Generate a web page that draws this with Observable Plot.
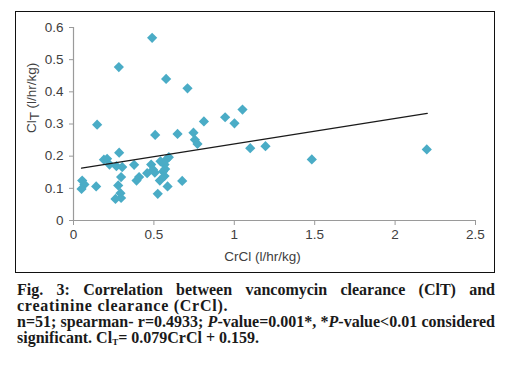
<!DOCTYPE html>
<html>
<head>
<meta charset="utf-8">
<script src="https://cdn.jsdelivr.net/npm/d3@7"></script>
<script src="https://cdn.jsdelivr.net/npm/@observablehq/plot@0.6"></script>
<style>
  html, body { margin: 0; padding: 0; background: #fff; }
  #wrap { position: relative; width: 506px; height: 368px; overflow: hidden; }
  #chart { position: absolute; left: 0; top: 0; }
  #frame { position: absolute; left: 15px; top: 11px; width: 478px; height: 260px; border: 1.6px solid #111; pointer-events: none; }
  #caption { position: absolute; left: 17px; top: 282px; width: 478px; font-family: "Liberation Serif", "Times New Roman", serif; font-weight: bold; font-size: 16px; line-height: 16px; color: #1a1a1a; }
  #caption .j { text-align: justify; text-align-last: justify; }
  #caption .w { letter-spacing: 0.75px; }
  #caption sub { font-size: 9px; vertical-align: -2px; line-height: 0; }
</style>
</head>
<body>
<div id="wrap">
  <div id="chart"></div>
  <div id="frame"></div>
  <div id="caption">
    <div class="j">Fig. 3: Correlation between vancomycin clearance (ClT) and</div>
    <div class="w">creatinine clearance (CrCl).</div>
    <div class="j">n=51; spearman- r=0.4933; <i>P</i>-value=0.001*, *<i>P</i>-value&lt;0.01 considered</div>
    <div>significant. Cl<sub>T</sub>= 0.079CrCl + 0.159.</div>
  </div>
</div>
<script>
// CrCl (l/hr/kg)
const crcl = [0.489, 0.282, 0.576, 0.709, 1.051, 0.943, 1.001, 0.811, 0.147, 0.508,
              0.647, 0.746, 0.755, 0.771, 1.099, 1.194, 1.482, 2.197, 0.284, 0.189,
              0.209, 0.224, 0.267, 0.303, 0.377, 0.483, 0.495, 0.458, 0.506, 0.541,
              0.578, 0.593, 0.566, 0.557, 0.537, 0.566, 0.585, 0.524, 0.676, 0.392,
              0.408, 0.296, 0.278, 0.141, 0.054, 0.068, 0.050, 0.261, 0.296, 0.292,
              0.570];
// ClT (l/hr/kg)
const clt  = [0.568, 0.477, 0.440, 0.411, 0.345, 0.321, 0.302, 0.308, 0.298, 0.266,
              0.269, 0.273, 0.251, 0.238, 0.225, 0.231, 0.190, 0.221, 0.211, 0.189,
              0.192, 0.174, 0.169, 0.166, 0.173, 0.174, 0.158, 0.147, 0.149, 0.184,
              0.190, 0.197, 0.174, 0.152, 0.124, 0.138, 0.106, 0.083, 0.123, 0.124,
              0.135, 0.135, 0.109, 0.106, 0.124, 0.112, 0.098, 0.067, 0.070, 0.085,
              0.160];
// Trend line ends (ClT = 0.079 CrCl + 0.159)
const trendX = [0.05, 2.2];
const trendY = [0.163, 0.333];

const xTicks = [0, 0.5, 1, 1.5, 2, 2.5];
const yTicks = [0, 0.1, 0.2, 0.3, 0.4, 0.5, 0.6];
const xLabel = "CrCl (l/hr/kg)";
const yLabel = "ClT (l/hr/kg)";

const points = crcl.map((x, i) => ({x, y: clt[i]}));
const trend = trendX.map((x, i) => ({x, y: trendY[i]}));

const axisColor = "#9a9a9a";
const textColor = "#404040";

const chart = Plot.plot({
  width: 506,
  height: 280,
  marginLeft: 73,
  marginRight: 31,
  marginTop: 27,
  marginBottom: 60,
  style: {fontFamily: "'Liberation Sans', Arial, sans-serif", fontSize: "13.5px", background: "transparent"},
  x: {domain: [0, 2.5]},
  y: {domain: [0, 0.6]},
  marks: [
    Plot.ruleX([0], {stroke: axisColor, strokeWidth: 1.2}),
    Plot.ruleY([0], {stroke: axisColor, strokeWidth: 1.2}),
    Plot.axisX({ticks: xTicks, tickFormat: d => String(d), tickSize: 5, tickPadding: 4, stroke: axisColor, fill: textColor, label: null, fontSize: 13.5}),
    Plot.axisY({ticks: yTicks, tickFormat: d => String(d), tickSize: 4, tickPadding: 6, stroke: axisColor, fill: textColor, label: null, fontSize: 13.5}),
    Plot.dot(points, {x: "x", y: "y", symbol: "diamond2", r: 4.6, fill: "#4aacc6", stroke: "none"}),
    Plot.line(trend, {x: "x", y: "y", stroke: "#1a1a1a", strokeWidth: 1.3}),
    Plot.text([xLabel], {frameAnchor: "bottom", dx: -12, dy: 40, fill: textColor, fontSize: 13.5}),
    Plot.text([yLabel], {frameAnchor: "left", rotate: -90, dx: -42, dy: 9, fill: textColor, fontSize: 13.5})
  ]
});
document.getElementById("chart").appendChild(chart);

// render the T of ClT as a subscript in the y-axis title
d3.select(chart).selectAll("text").each(function() {
  if (this.textContent === yLabel) {
    const t = d3.select(this);
    t.text(null);
    t.append("tspan").text("Cl");
    t.append("tspan").attr("dy", "0.25em").text("T");
    t.append("tspan").attr("dy", "-0.25em").text(" (l/hr/kg)");
  }
});
</script>
</body>
</html>
